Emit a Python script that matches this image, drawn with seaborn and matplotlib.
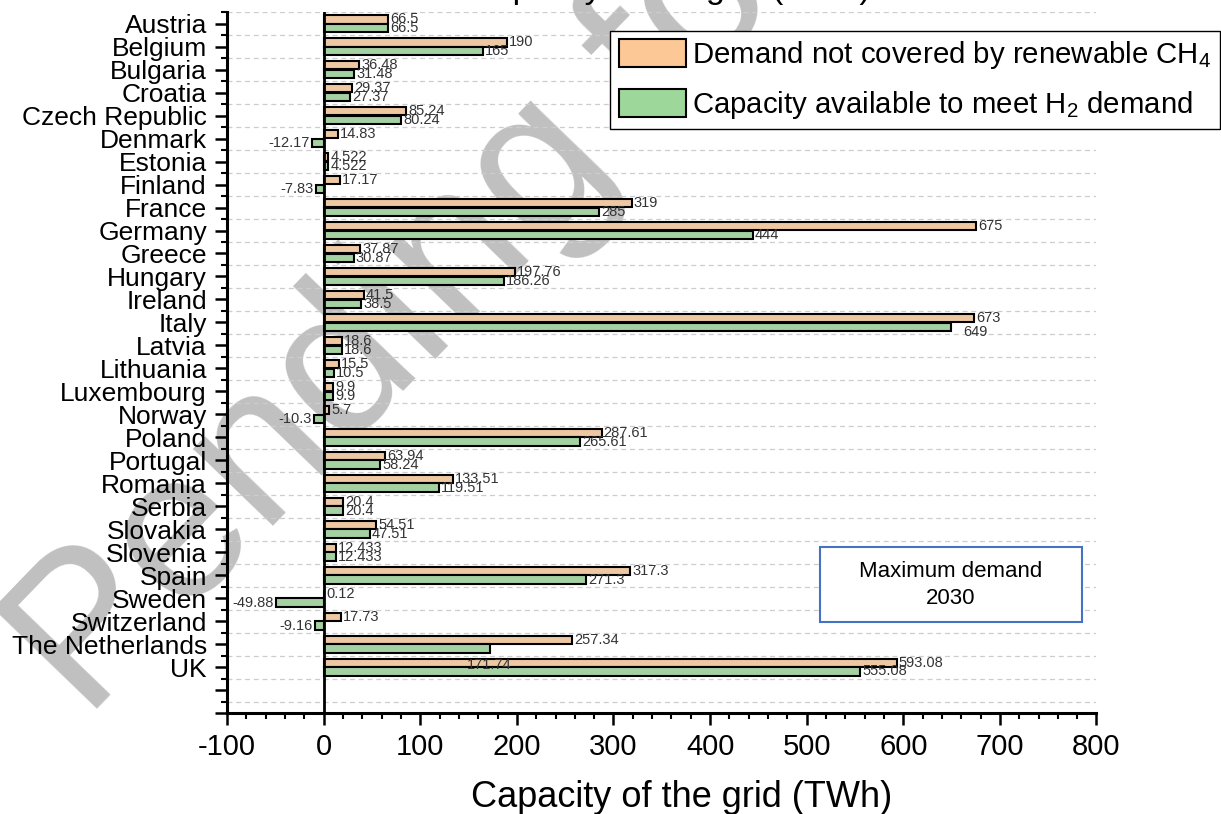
import matplotlib
matplotlib.use("Agg")
import matplotlib.pyplot as plt
import matplotlib.patches as mpatches
from matplotlib.ticker import FixedLocator, MultipleLocator
import seaborn as sns
import pandas as pd

sns.set_theme(style="white")
plt.rcParams['font.family'] = ['Liberation Sans', 'DejaVu Sans']
plt.rcParams['mathtext.default'] = 'regular'
plt.rcParams['axes.unicode_minus'] = False
for k in ['text.color', 'axes.labelcolor', 'xtick.color', 'ytick.color']:
    plt.rcParams[k] = 'black'

countries = ["Austria", "Belgium", "Bulgaria", "Croatia", "Czech Republic", "Denmark",
             "Estonia", "Finland", "France", "Germany", "Greece", "Hungary", "Ireland",
             "Italy", "Latvia", "Lithuania", "Luxembourg", "Norway", "Poland", "Portugal",
             "Romania", "Serbia", "Slovakia", "Slovenia", "Spain", "Sweden", "Switzerland",
             "The Netherlands", "UK"]
demand_ch4 = [66.5, 190, 36.48, 29.37, 85.24, 14.83, 4.522, 17.17, 319, 675, 37.87,
              197.76, 41.5, 673, 18.6, 15.5, 9.9, 5.7, 287.61, 63.94, 133.51, 20.4,
              54.51, 12.433, 317.3, 0.12, 17.73, 257.34, 593.08]
capacity_h2 = [66.5, 165, 31.48, 27.37, 80.24, -12.17, 4.522, -7.83, 285, 444, 30.87,
               186.26, 38.5, 649, 18.6, 10.5, 9.9, -10.3, 265.61, 58.24, 119.51, 20.4,
               47.51, 12.433, 271.3, -49.88, -9.16, 171.74, 555.08]
series_names = ["Demand not covered by renewable CH$_4$",
                "Capacity available to meet H$_2$ demand"]
colors = ["#FBC896", "#9DD89A"]

df = pd.DataFrame({
    "country": countries * 2,
    "value": demand_ch4 + capacity_h2,
    "series": [series_names[0]] * len(countries) + [series_names[1]] * len(countries),
})

fig = plt.figure(figsize=(12.21, 8.14), dpi=100)

# watermark (behind everything)
wm = fig.text(0.07, 0.115, "Pending for review", fontsize=151, color="#C0C0C0",
              rotation=46, rotation_mode="anchor", ha="left", va="baseline")
wm.set_zorder(-5)

ax = fig.add_axes([0.186, 0.124, 0.712, 0.861])
ax.set_zorder(1)
ax.set_facecolor("none")

sns.barplot(data=df, y="country", x="value", hue="series", orient="h",
            palette=colors, edgecolor="black", linewidth=1.5, width=0.76,
            gap=0.04, legend=False, ax=ax, zorder=3)

ax.set_xlim(-100, 800)
ax.set_ylim(30, -0.5)
ax.axvline(0, color="black", lw=2.0, zorder=4)

# ticks
ax.xaxis.set_major_locator(MultipleLocator(100))
ax.xaxis.set_minor_locator(MultipleLocator(20))
ax.yaxis.set_major_locator(FixedLocator(list(range(0, 31))))
ax.set_yticklabels(countries + ["", ""])
ax.yaxis.set_minor_locator(FixedLocator([k + 0.5 for k in range(-1, 30)]))
ax.tick_params(axis="both", which="major", direction="out", length=8.5, width=1.8,
               color="black", bottom=True, left=True)
ax.tick_params(axis="both", which="minor", direction="out", length=4.5, width=1.5,
               color="black", bottom=True, left=True)
ax.tick_params(axis="y", which="major", labelsize=19, pad=6)
ax.tick_params(axis="x", which="major", labelsize=21, pad=6)
ax.grid(False)
ax.grid(True, axis="y", which="minor", color="#CDCDCD", linestyle=(0, (4, 3)), lw=0.9, zorder=0)

for s in ["top", "right"]:
    ax.spines[s].set_visible(False)
for s in ["left", "bottom"]:
    ax.spines[s].set_color("black")
    ax.spines[s].set_linewidth(2.2)

ax.set_ylabel("")
ax.set_xlabel("Capacity of the grid (TWh)", fontsize=26, labelpad=12)
ax.xaxis.set_label_coords((682 - 227) / 870, -0.095)

# value labels
def fmt(v):
    return f"{v:g}"

specials = {("Italy", 1): (9, -4, "left"), ("The Netherlands", 1): (0, -12, "center")}
for si, (cont, vals) in enumerate(zip(ax.containers, [demand_ch4, capacity_h2])):
    labels = []
    for c, v in zip(countries, vals):
        labels.append("" if (c, si) in specials else fmt(v))
    ax.bar_label(cont, labels=labels, padding=1.5, fontsize=10.5, color="#333333", zorder=5)
    for ci, c in enumerate(countries):
        if (c, si) in specials:
            dx, dy, ha = specials[(c, si)]
            p = cont.patches[ci]
            v = vals[ci]
            ax.annotate(fmt(v), xy=(v, p.get_y() + p.get_height() / 2),
                        xytext=(dx, dy), textcoords="offset points", ha=ha, va="center",
                        fontsize=10.5, color="#333333", zorder=5)

# legend
handles = [mpatches.Patch(facecolor=colors[i], edgecolor="black", lw=1.5, label=series_names[i])
           for i in range(2)]
leg = fig.legend(handles=handles, loc="upper right", bbox_to_anchor=(0.999, 0.962),
                 fontsize=21.2, frameon=True, fancybox=False, framealpha=1,
                 edgecolor="black", handlelength=2.3, handleheight=1.1,
                 handletextpad=0.2, labelspacing=0.6, borderpad=0.28, borderaxespad=0)
leg.get_frame().set_linewidth(1.0)
leg.set_zorder(10)

# annotation box
fig.patches.append(mpatches.Rectangle((820 / 1221, 1 - 622 / 814), 262 / 1221, 75 / 814,
                                      transform=fig.transFigure, facecolor="white",
                                      edgecolor="#4472C4", lw=1.5, zorder=6))
fig.text(951 / 1221, 1 - 585 / 814, "Maximum demand\n2030", ha="center", va="center",
         fontsize=16, linespacing=1.35, zorder=7)

# title (clipped at the top, as in the reference)
fig.text(469 / 1221, 1 + 2 / 814, "Capacity of the grid (2030)", fontsize=24.5,
         ha="left", va="baseline")

fig.savefig("out.png", dpi=100)
